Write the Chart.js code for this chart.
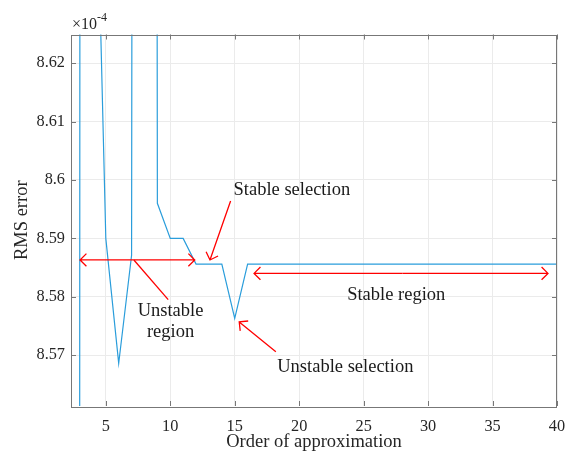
<!DOCTYPE html>
<html>
<head>
<meta charset="utf-8">
<style>
  body { margin: 0; background: #fff; }
  canvas { display: block; }
</style>
<script src="https://cdn.jsdelivr.net/npm/chart.js@4/dist/chart.umd.min.js"></script>
</head>
<body>
<canvas id="grafico" width="565" height="452"></canvas>
<script>
// Datos (error RMS en unidades de 1e-4)
const orders = [2, 3, 4, 5, 6, 7, 8, 9, 10, 11, 12, 13, 14, 15,
  16, 17, 18, 19, 20, 21, 22, 23, 24, 25, 26, 27, 28,
  29, 30, 31, 32, 33, 34, 35, 36, 37, 38, 39, 40];
const rmsError = [3.5, 8.69, 8.68, 8.590, 8.5686, 8.5871, 10.4, 8.596, 8.590, 8.590, 8.5856, 8.5856, 8.5856, 8.5763,
  8.5856, 8.5856, 8.5856, 8.5856, 8.5856, 8.5856, 8.5856, 8.5856, 8.5856, 8.5856, 8.5856, 8.5856, 8.5856,
  8.5856, 8.5856, 8.5856, 8.5856, 8.5856, 8.5856, 8.5856, 8.5856, 8.5856, 8.5856, 8.5856, 8.5856];
const xTicks = [5, 10, 15, 20, 25, 30, 35, 40];
const yTicks = [8.57, 8.58, 8.59, 8.6, 8.61, 8.62];

const FUENTE = '"Liberation Serif", "DejaVu Serif", serif';
const ROJO = '#ff0000';

function flecha(ctx, x1, y1, x2, y2) {
  const ang = Math.atan2(y2 - y1, x2 - x1);
  const len = 9, abre = 0.78;
  ctx.beginPath();
  ctx.moveTo(x1, y1);
  ctx.lineTo(x2, y2);
  ctx.moveTo(x2 - len * Math.cos(ang - abre), y2 - len * Math.sin(ang - abre));
  ctx.lineTo(x2, y2);
  ctx.lineTo(x2 - len * Math.cos(ang + abre), y2 - len * Math.sin(ang + abre));
  ctx.stroke();
}

// Caja, marcas hacia dentro, exponente y anotaciones
const anotaciones = {
  id: 'anotaciones',
  afterDatasetsDraw(chart) {
    const ctx = chart.ctx;
    const a = chart.chartArea;
    const sx = chart.scales.x, sy = chart.scales.y;
    const px = v => sx.getPixelForValue(v);
    const py = v => sy.getPixelForValue(v);
    ctx.save();

    // caja y marcas
    ctx.strokeStyle = '#777';
    ctx.lineWidth = 1;
    ctx.strokeRect(Math.round(a.left) + 0.5, Math.round(a.top) + 0.5,
      Math.round(a.right - a.left) - 1, Math.round(a.bottom - a.top));
    ctx.beginPath();
    xTicks.forEach(v => {
      const x = Math.round(px(v)) + 0.5;
      ctx.moveTo(x, a.bottom); ctx.lineTo(x, a.bottom - 5);
      ctx.moveTo(x, a.top); ctx.lineTo(x, a.top + 5);
    });
    yTicks.forEach(v => {
      const y = Math.round(py(v)) + 0.5;
      ctx.moveTo(a.left, y); ctx.lineTo(a.left + 5, y);
      ctx.moveTo(a.right, y); ctx.lineTo(a.right - 5, y);
    });
    ctx.stroke();

    // exponente x10^-4
    ctx.fillStyle = '#262626';
    ctx.textBaseline = 'alphabetic';
    ctx.textAlign = 'left';
    ctx.font = '16px ' + FUENTE;
    ctx.fillText('\u00d710', a.left + 1, a.top - 5.5);
    const w = ctx.measureText('\u00d710').width;
    ctx.font = '12px ' + FUENTE;
    ctx.fillText('-4', a.left + 1 + w, a.top - 13.5);

    // flechas rojas
    ctx.strokeStyle = ROJO;
    ctx.lineWidth = 1.3;
    flecha(ctx, px(7.5), py(8.5863), px(3), py(8.5863));
    flecha(ctx, px(7.5), py(8.5863), px(11.9), py(8.5863));
    ctx.beginPath();
    ctx.moveTo(px(7.18), py(8.5863));
    ctx.lineTo(px(9.84), py(8.5795));
    ctx.stroke();
    flecha(ctx, px(14.68), py(8.5964), px(13.08), py(8.5863));
    flecha(ctx, px(28), py(8.584), px(16.5), py(8.584));
    flecha(ctx, px(28), py(8.584), px(39.3), py(8.584));
    flecha(ctx, px(18.19), py(8.5706), px(15.35), py(8.5757));

    // textos
    ctx.fillStyle = '#1a1a1a';
    ctx.font = '18.5px ' + FUENTE;
    ctx.textAlign = 'center';
    ctx.textBaseline = 'middle';
    ctx.fillText('Stable selection', px(19.43), py(8.5983));
    ctx.fillText('Unstable', px(10.02), py(8.5776));
    ctx.fillText('region', px(10.02), py(8.5739));
    ctx.fillText('Stable region', px(27.53), py(8.5803));
    ctx.fillText('Unstable selection', px(23.58), py(8.5679));
    ctx.restore();
  }
};

const config = {
  type: 'line',
  data: {
    datasets: [{
      data: orders.map((x, i) => ({ x: x, y: rmsError[i] })),
      borderColor: '#2a9ddb',
      borderWidth: 1.2,
      pointRadius: 0,
      tension: 0,
      fill: false
    }]
  },
  options: {
    responsive: false,
    animation: false,
    devicePixelRatio: 1,
    layout: { padding: { top: 34.5, right: 8, left: 0, bottom: 0 } },
    plugins: { legend: { display: false }, tooltip: { enabled: false } },
    scales: {
      x: {
        type: 'linear',
        min: 2.3,
        max: 40,
        afterBuildTicks: s => { s.ticks = xTicks.map(v => ({ value: v })); },
        afterFit: s => { s.height = 46; s.paddingLeft = 0; s.paddingRight = 0; },
        grid: { color: '#ebebeb', drawTicks: false },
        border: { display: false },
        ticks: { color: '#262626', font: { family: FUENTE, size: 16.3 }, padding: 11, maxRotation: 0 },
        title: { display: true, text: 'Order of approximation', color: '#262626',
          font: { family: FUENTE, size: 18.5 }, padding: { top: 2, bottom: -1 } }
      },
      y: {
        min: 8.5613,
        max: 8.6249,
        afterBuildTicks: s => { s.ticks = yTicks.map(v => ({ value: v })); },
        afterFit: s => { s.width = 71; s.paddingTop = 0; s.paddingBottom = 0; },
        grid: { color: '#ebebeb', drawTicks: false },
        border: { display: false },
        ticks: { color: '#262626', font: { family: FUENTE, size: 16.3 }, padding: 6,
          callback: v => String(+v.toFixed(2)) },
        title: { display: true, text: 'RMS error', color: '#262626',
          font: { family: FUENTE, size: 18.5 }, padding: { top: 11, bottom: 4 } }
      }
    }
  },
  plugins: [anotaciones]
};

const ctx = document.getElementById('grafico').getContext('2d');
const grafico = new Chart(ctx, config);
</script>
</body>
</html>
